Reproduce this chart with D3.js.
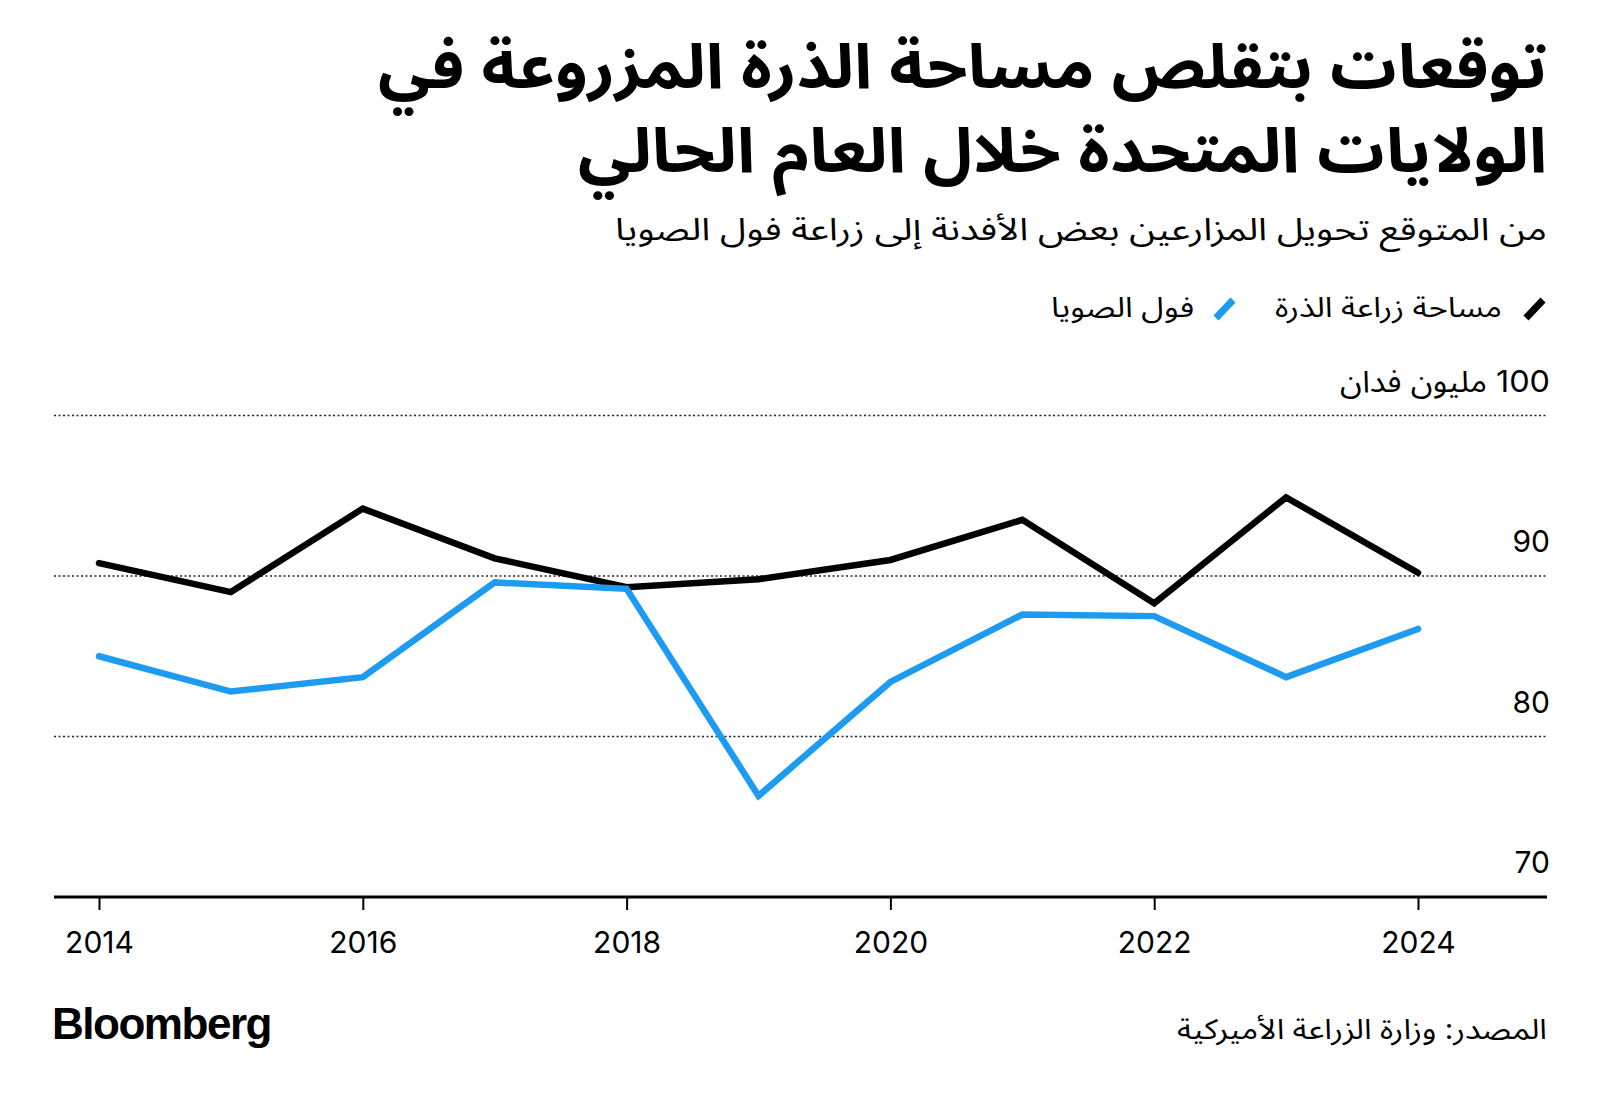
<!DOCTYPE html>
<html>
<head>
<meta charset="utf-8">
<script src="https://cdn.jsdelivr.net/npm/d3@7"></script>
<style>
  html, body { margin: 0; padding: 0; background: #fff; }
  svg { display: block; }
  .ar { font-family: "Noto Sans Arabic", "Noto Naskh Arabic", "DejaVu Sans", sans-serif; }
  .num { font-family: "Inter", "Roboto", "Noto Sans Arabic", "DejaVu Sans", sans-serif; }
</style>
</head>
<body>
<script>
// ---------- data ----------
const years = [2014, 2015, 2016, 2017, 2018, 2019, 2020, 2021, 2022, 2023, 2024];
const cornAcres = [90.8, 89.0, 94.2, 91.1, 89.3, 89.8, 91.0, 93.5, 88.3, 94.9, 90.2];
const soyAcres  = [85.0, 82.8, 83.7, 89.6, 89.2, 76.3, 83.4, 87.6, 87.5, 83.7, 86.7];
const yTicks = [70, 80, 90, 100];
const xTicks = [2014, 2016, 2018, 2020, 2022, 2024];
const seriesNames = ["مساحة زراعة الذرة", "فول الصويا"];
const titleLines = ["توقعات بتقلص مساحة الذرة المزروعة في", "الولايات المتحدة خلال العام الحالي"];
const subtitle = "من المتوقع تحويل المزارعين بعض الأفدنة إلى زراعة فول الصويا";
const unitLabel = "مليون فدان";
const sourceText = "المصدر: وزارة الزراعة الأميركية";

// ---------- layout ----------
const W = 1600, H = 1104;
const colors = ["#000000", "#1d9bf0"];
const svg = d3.select("body").append("svg").attr("width", W).attr("height", H);

const x = d3.scaleLinear().domain([2014, 2024]).range([99, 1418]);
const y = d3.scaleLinear().domain([70, 100]).range([897, 415.5]);
const plotLeft = 54, plotRight = 1547;

// title
const title = svg.append("g").attr("class", "ar");
const titleW = [1169, 969];
titleLines.forEach((t, i) => {
  title.append("text")
    .attr("x", plotRight).attr("y", 88 + i * 84)
    .attr("direction", "rtl").attr("text-anchor", "start")
    .attr("font-size", 62).attr("font-weight", 700).attr("fill", "#000")
    .attr("textLength", titleW[i]).attr("lengthAdjust", "spacingAndGlyphs")
    .text(t);
});

svg.append("text").attr("class", "ar")
  .attr("x", plotRight).attr("y", 240)
  .attr("direction", "rtl").attr("text-anchor", "start")
  .attr("font-size", 31).attr("fill", "#000")
  .attr("textLength", 932).attr("lengthAdjust", "spacingAndGlyphs")
  .text(subtitle);

// legend
const legendItems = [
  { name: seriesNames[0], color: colors[0], iconRight: 1547, textRight: 1502, textW: 227 },
  { name: seriesNames[1], color: colors[1], iconRight: 1237, textRight: 1194, textW: 143 }
];
const lg = svg.append("g");
legendItems.forEach(d => {
  lg.append("line")
    .attr("x1", d.iconRight - 21).attr("y1", 318)
    .attr("x2", d.iconRight - 4).attr("y2", 300)
    .attr("stroke", d.color).attr("stroke-width", 7).attr("stroke-linecap", "butt");
  lg.append("text").attr("class", "ar")
    .attr("x", d.textRight).attr("y", 317)
    .attr("direction", "rtl").attr("text-anchor", "start")
    .attr("font-size", 28).attr("fill", "#000")
    .attr("textLength", d.textW).attr("lengthAdjust", "spacingAndGlyphs")
    .text(d.name);
});

// gridlines
const grid = svg.append("g");
grid.selectAll("line").data(yTicks.filter(v => v > 70)).join("line")
  .attr("x1", plotLeft).attr("x2", plotRight)
  .attr("y1", d => y(d)).attr("y2", d => y(d))
  .attr("stroke", "#222").attr("stroke-width", 1.5).attr("stroke-dasharray", "2,2.5");

// y labels
const yl = svg.append("g");
yTicks.forEach(v => {
  const t = yl.append("text").attr("class", "num")
    .attr("x", 1550).attr("y", y(v) - 24)
    .attr("direction", "rtl").attr("text-anchor", "start")
    .attr("font-size", 30).attr("fill", "#000");
  if (v === 100) {
    t.attr("textLength", 210).attr("lengthAdjust", "spacingAndGlyphs").text(v + " " + unitLabel);
  } else {
    t.text(v);
  }
});

// x axis
const xAxis = d3.axisBottom(x).tickValues(xTicks).tickFormat(d3.format("d")).tickSize(13).tickPadding(22);
const ax = svg.append("g").attr("transform", `translate(0, ${y(70)})`).call(xAxis);
ax.select(".domain").remove();
ax.selectAll(".tick line").attr("stroke", "#000").attr("stroke-width", 2);
ax.selectAll(".tick text").attr("class", "num").attr("font-size", 30).attr("fill", "#000")
  .attr("font-family", null);
svg.append("line").attr("x1", plotLeft).attr("x2", plotRight)
  .attr("y1", y(70)).attr("y2", y(70)).attr("stroke", "#000").attr("stroke-width", 3);

// lines
const line = d3.line().x((d, i) => x(years[i])).y(d => y(d));
[cornAcres, soyAcres].forEach((s, i) => {
  svg.append("path").datum(s)
    .attr("d", line)
    .attr("fill", "none").attr("stroke", colors[i]).attr("stroke-width", 6.5)
    .attr("stroke-linejoin", "miter").attr("stroke-linecap", "round");
});

// footer
svg.append("text")
  .attr("x", 52).attr("y", 1039)
  .attr("font-family", "'Liberation Sans', Arial, sans-serif").attr("font-weight", 700)
  .attr("font-size", 44).attr("letter-spacing", -1.5).attr("fill", "#000")
  .attr("textLength", 219).attr("lengthAdjust", "spacingAndGlyphs")
  .text("Bloomberg");

svg.append("text").attr("class", "ar")
  .attr("x", plotRight).attr("y", 1039)
  .attr("direction", "rtl").attr("text-anchor", "start")
  .attr("font-size", 28).attr("fill", "#000")
  .attr("textLength", 370).attr("lengthAdjust", "spacingAndGlyphs")
  .text(sourceText);
</script>
</body>
</html>
